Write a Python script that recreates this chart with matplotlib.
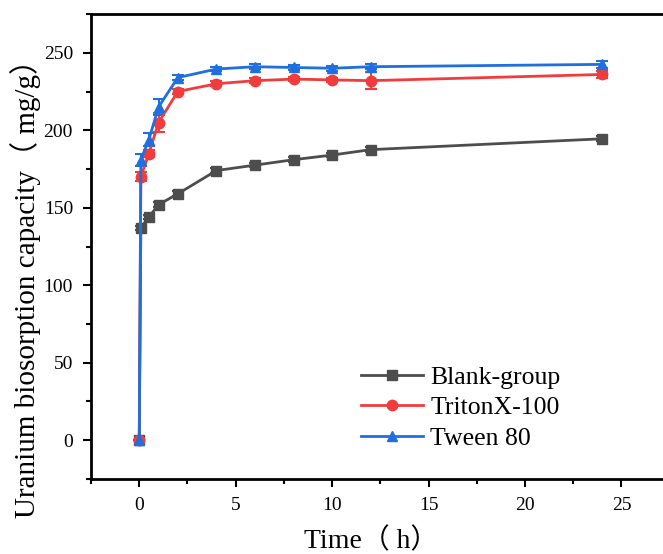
import matplotlib
matplotlib.use("Agg")
import matplotlib.pyplot as plt
from matplotlib.ticker import MultipleLocator
from matplotlib.lines import Line2D

time = [0, 0.083, 0.5, 1, 2, 4, 6, 8, 10, 12, 24]
blank = [0, 137, 144, 152, 159, 174, 177.5, 181, 184, 187.5, 194.5]
blank_err = [0, 1.5, 1.5, 1.5, 1.5, 1.5, 1.5, 1.5, 1.5, 1.5, 1.5]
triton = [0, 170, 185, 205, 225, 230, 232, 233, 232.5, 232, 236]
triton_err = [0, 3, 2.5, 6, 1.5, 1.5, 1.5, 1.5, 1.5, 5.5, 2]
tween = [0, 181, 194, 215, 234, 239.5, 241, 240.5, 240, 241, 242.5]
tween_err = [0, 4, 4, 5, 1.5, 1.5, 1.5, 1.5, 1.5, 1.5, 2.5]

labels = ["Blank-group", "TritonX-100", "Tween 80"]
colors = ["#4d4d4d", "#f03c3c", "#1f6fdf"]
markers = ["s", "o", "^"]

plt.rcParams['font.family'] = ['Liberation Serif', 'Noto Sans CJK SC', 'DejaVu Sans']

fig = plt.figure(figsize=(6.63, 5.54), dpi=100)
ax = fig.add_axes([0.1373, 0.1354, 0.8612, 0.8393])

handles = []
for y, e, lab, c, m in zip([blank, triton, tween], [blank_err, triton_err, tween_err], labels, colors, markers):
    ax.errorbar(time, y, yerr=e, color=c, marker=m, markersize=7.5, linewidth=2,
                elinewidth=1.5, capsize=4, capthick=1.5)
    handles.append(Line2D([], [], color=c, marker=m, markersize=7.5, linewidth=2, label=lab))

ax.set_xlim(-2.5, 27.1)
ax.set_ylim(-25, 275)
ax.xaxis.set_major_locator(MultipleLocator(5))
ax.xaxis.set_minor_locator(MultipleLocator(2.5))
ax.yaxis.set_major_locator(MultipleLocator(50))
ax.yaxis.set_minor_locator(MultipleLocator(25))
ax.tick_params(which='major', direction='out', length=6, width=1.5, labelsize=14)
ax.tick_params(axis='y', which='major', pad=7)
ax.tick_params(axis='x', which='major', pad=7)
ax.tick_params(which='minor', direction='out', length=3.5, width=1.5)
for s in ['left', 'bottom', 'top']:
    ax.spines[s].set_linewidth(2)
ax.spines['right'].set_visible(False)

ax.set_xlabel("Time（ h）", fontsize=20)
ax.xaxis.set_label_coords(0.49, -0.105)
ax.set_ylabel("Uranium biosorption capacity（ mg/g）", fontsize=21)
ax.yaxis.set_label_coords(-0.088, 0.424)

leg = ax.legend(handles=handles, loc='lower left', bbox_to_anchor=(0.455, 0.04), frameon=False, fontsize=18.5,
                handlelength=2.4, handletextpad=0.3, labelspacing=0.3, borderaxespad=0)

fig.savefig("out.png", dpi=100)
